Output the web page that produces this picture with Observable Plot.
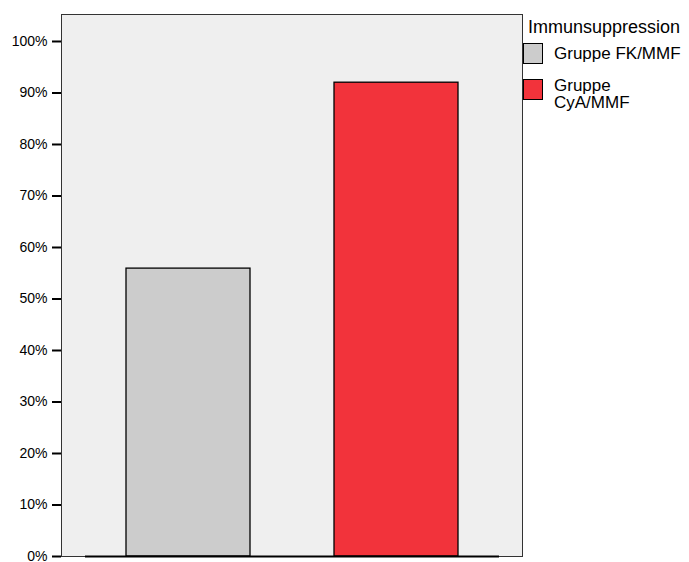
<!DOCTYPE html>
<html>
<head>
<meta charset="utf-8">
<script src="https://cdn.jsdelivr.net/npm/d3@7"></script>
<script src="https://cdn.jsdelivr.net/npm/@observablehq/plot@0.6"></script>
<style>
  body { margin: 0; background: #fff; font-family: "Liberation Sans", Arial, sans-serif; }
  #wrap { position: relative; width: 689px; height: 562px; overflow: hidden; }
  #legend { position: absolute; left: 523px; top: 17px; width: 166px; color: #000; white-space: nowrap; }
  .ltitle { font-size: 18px; margin-left: 5px; line-height: 20px; }
  .litem { position: relative; height: 36px; }
  .sw { position: absolute; left: 0; width: 18px; height: 19px; border: 1px solid #000; }
  .lt { position: absolute; left: 31px; font-size: 17px; line-height: 17px; white-space: nowrap; }
</style>
</head>
<body>
<div id="wrap"><div id="chart"></div><div id="legend"></div></div>
<script>
const legendTitle = "Immunsuppression";
const groups = ["Gruppe FK/MMF", "Gruppe CyA/MMF"];
const groupLabels = [["Gruppe FK/MMF"], ["Gruppe", "CyA/MMF"]];
const percent = [0.559, 0.920];
const colors = ["#cccccc", "#f2333b"];
const yTicks = [0, 0.1, 0.2, 0.3, 0.4, 0.5, 0.6, 0.7, 0.8, 0.9, 1.0];

const data = groups.map((g, i) => ({group: g, value: percent[i]}));

const chart = Plot.plot({
  width: 689,
  height: 562,
  marginTop: 14,
  marginRight: 167,
  marginBottom: 6,
  marginLeft: 61,
  style: {fontFamily: "'Liberation Sans', Arial, sans-serif", fontSize: "14px", color: "#000", background: "transparent"},
  x: {domain: groups, paddingInner: 0.404, paddingOuter: 0.31, axis: null},
  y: {domain: [0, 1.0524], ticks: yTicks, tickFormat: d => Math.round(d * 100) + "%"},
  color: {domain: groups, range: colors},
  marks: [
    Plot.frame({fill: "#efefef", stroke: "#333", strokeWidth: 1}),
    Plot.barY(data, {x: "group", y: "value", fill: "group", stroke: "#000", strokeWidth: 1.3}),
    Plot.ruleY([0], {stroke: "#000", strokeWidth: 2, insetLeft: 24, insetRight: 23}),
    Plot.axisY({ticks: yTicks, tickFormat: d => Math.round(d * 100) + "%", tickSize: 9, tickPadding: 5, strokeWidth: 2, fontSize: 14, label: null}),
    Plot.ruleX([0], {x: () => 0, stroke: "#000", strokeWidth: 2, frameAnchor: "left"})
  ]
});
document.getElementById("chart").appendChild(chart);

const legend = document.getElementById("legend");
const t = document.createElement("div");
t.className = "ltitle";
t.textContent = legendTitle;
legend.appendChild(t);
groups.forEach((g, i) => {
  const item = document.createElement("div");
  item.className = "litem";
  const sw = document.createElement("div");
  sw.className = "sw";
  sw.style.background = colors[i];
  sw.style.top = "6px";
  item.appendChild(sw);
  const lines = groupLabels[i];
  const lt = document.createElement("div");
  lt.className = "lt";
  lt.style.top = lines.length === 1 ? "8px" : "4px";
  lt.innerHTML = lines.join("<br>");
  item.appendChild(lt);
  legend.appendChild(item);
});
</script>
</body>
</html>
